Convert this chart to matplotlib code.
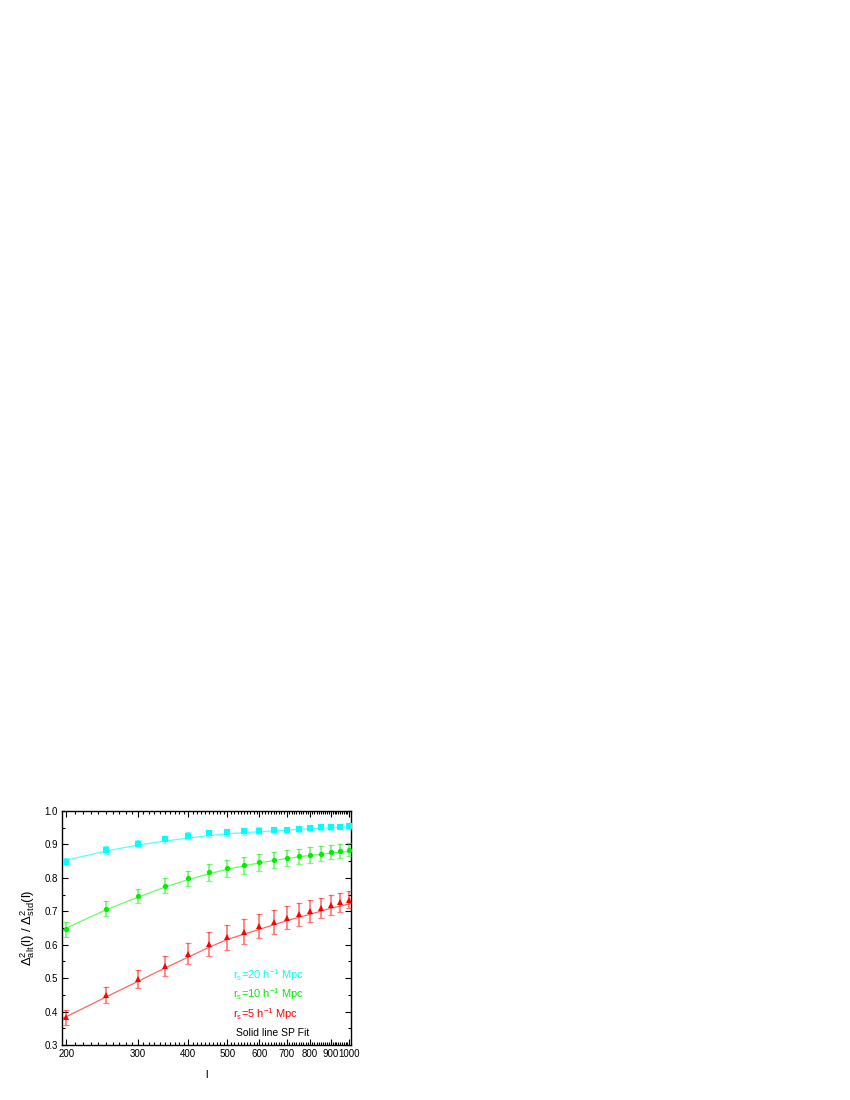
import numpy as np
import matplotlib.pyplot as plt
from matplotlib.ticker import FixedLocator, NullFormatter, FixedFormatter

plt.rcParams['font.family'] = ['Liberation Sans', 'DejaVu Sans']
plt.rcParams['mathtext.fontset'] = 'custom'
plt.rcParams['mathtext.rm'] = 'Liberation Sans'
plt.rcParams['mathtext.it'] = 'Liberation Sans'

# multipoles
ell = [200, 250, 300, 350, 400, 450, 500, 550, 600, 650, 700, 750, 800, 850, 900, 950, 1000]

# r_s = 20 h^-1 Mpc
cyan_val = [0.848, 0.883, 0.902, 0.915, 0.926, 0.933, 0.936, 0.939, 0.941, 0.943, 0.944, 0.946, 0.948, 0.951, 0.952, 0.953, 0.955]
cyan_err = [0.011, 0.011, 0.010, 0.010, 0.010, 0.010, 0.010, 0.010, 0.010, 0.009, 0.009, 0.009, 0.009, 0.008, 0.008, 0.008, 0.008]

# r_s = 10 h^-1 Mpc
green_val = [0.646, 0.708, 0.747, 0.777, 0.799, 0.817, 0.829, 0.838, 0.847, 0.853, 0.858, 0.864, 0.868, 0.872, 0.877, 0.880, 0.884]
green_err = [0.023, 0.022, 0.021, 0.022, 0.023, 0.025, 0.025, 0.025, 0.025, 0.024, 0.024, 0.023, 0.023, 0.022, 0.021, 0.021, 0.020]

# r_s = 5 h^-1 Mpc
red_val = [0.383, 0.450, 0.497, 0.537, 0.573, 0.601, 0.622, 0.639, 0.656, 0.668, 0.681, 0.691, 0.701, 0.710, 0.718, 0.727, 0.735]
red_err = [0.022, 0.024, 0.026, 0.030, 0.032, 0.036, 0.038, 0.038, 0.037, 0.036, 0.035, 0.034, 0.032, 0.031, 0.030, 0.028, 0.026]

# SP fit curves
fit_ell = [195, 200, 250, 300, 350, 400, 450, 500, 600, 700, 800, 900, 1000, 1010]
cyan_fit = [0.850, 0.853, 0.880, 0.898, 0.910, 0.919, 0.926, 0.932, 0.938, 0.943, 0.947, 0.950, 0.952, 0.953]
green_fit = [0.641, 0.650, 0.704, 0.742, 0.772, 0.795, 0.812, 0.826, 0.845, 0.858, 0.867, 0.874, 0.879, 0.880]
red_fit = [0.379, 0.385, 0.443, 0.490, 0.530, 0.563, 0.592, 0.616, 0.646, 0.672, 0.691, 0.709, 0.722, 0.724]

xticks = [200, 300, 400, 500, 600, 700, 800, 900, 1000]
yticks = [0.3, 0.4, 0.5, 0.6, 0.7, 0.8, 0.9, 1.0]

fig = plt.figure(figsize=(8.5, 11), dpi=100)
ax = fig.add_axes([62 / 850, 1 - 1045 / 1100, (351 - 62) / 850, (1045 - 811) / 1100])

series = [
    (cyan_val, cyan_err, cyan_fit, '#00ffff', '#55ffff', 's'),
    (green_val, green_err, green_fit, '#00ee00', '#66ff66', 'o'),
    (red_val, red_err, red_fit, '#ff0000', '#ff6666', '^'),
]
for val, err, fit, col, light, mk in series:
    ax.plot(fit_ell, fit, color=light, lw=0.9, zorder=2)
    ax.errorbar(ell, val, yerr=err, fmt='none', ecolor=col, alpha=0.5,
                elinewidth=1.3, capsize=2.5, capthick=0.9, zorder=3)
    ax.plot(ell, val, linestyle='none', marker=mk, color=col, ms=3.8,
            markeredgewidth=0, zorder=4)

ax.set_xscale('log')
ax.set_xlim(195, 1010)
ax.set_ylim(0.3, 1.0)

ax.xaxis.set_major_locator(FixedLocator(xticks))
ax.xaxis.set_major_formatter(FixedFormatter([str(t) for t in xticks]))
minor_x = [v for v in range(200, 1010, 10) if v not in xticks]
ax.xaxis.set_minor_locator(FixedLocator(minor_x))
ax.xaxis.set_minor_formatter(NullFormatter())
ax.set_yticks(yticks)
ax.set_yticklabels([f'{t:.1f}' for t in yticks])
ax.yaxis.set_minor_locator(FixedLocator(np.arange(0.35, 1.0, 0.1)))

ax.tick_params(which='both', direction='in', top=True, right=True, labelsize=7, width=0.8)
ax.tick_params(which='major', length=4, pad=3)
ax.tick_params(which='minor', length=2)
for s in ax.spines.values():
    s.set_linewidth(1.0)

ax.set_xlabel('l', fontsize=8, labelpad=8)
ax.set_ylabel(r'$\Delta^2_{\mathrm{alt}}(\mathrm{l})\ /\ \Delta^2_{\mathrm{std}}(\mathrm{l})$', fontsize=9.5, labelpad=5)

ax.text(516, 0.497, r'r$_\mathrm{s}$=20 h$^{-1}$ Mpc', color='#00ffff', fontsize=8)
ax.text(516, 0.440, r'r$_\mathrm{s}$=10 h$^{-1}$ Mpc', color='#00ee00', fontsize=8)
ax.text(516, 0.380, r'r$_\mathrm{s}$=5 h$^{-1}$ Mpc', color='#ff0000', fontsize=8)
ax.text(525, 0.327, 'Solid line SP Fit', color='black', fontsize=7.5)

fig.savefig('out.png', dpi=100)
